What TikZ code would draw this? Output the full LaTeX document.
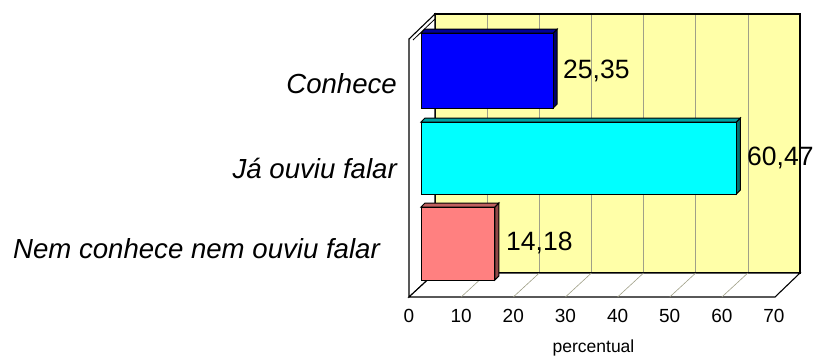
\documentclass[tikz,border=0pt]{standalone}
\usepackage{fontspec}
\setmainfont{Liberation Sans}
\definecolor{wallyellow}{HTML}{FFFFA8}
\definecolor{gridc}{HTML}{A0A088}
\definecolor{bluefront}{HTML}{0000FF}
\definecolor{bluetop}{HTML}{000099}
\definecolor{blueside}{HTML}{000066}
\definecolor{cyanfront}{HTML}{00FFFF}
\definecolor{cyantop}{HTML}{00A0A0}
\definecolor{cyanside}{HTML}{007070}
\definecolor{pinkfront}{HTML}{FF8080}
\definecolor{pinktop}{HTML}{C06060}
\definecolor{pinkside}{HTML}{904848}
\newcommand\mybar[7]{%
  \filldraw[fill=#7, barline] ({#3},{#2}) -- ({#3+4},{#2-4}) -- ({#3+4},{#4-4}) -- ({#3},{#4}) -- cycle;
  \filldraw[fill=#6, barline] ({#1},{#2}) -- ({#1+4},{#2-4}) -- ({#3+4},{#2-4}) -- ({#3},{#2}) -- cycle;
  \filldraw[fill=#5, barline] ({#1},{#2}) rectangle ({#3},{#4});
}
\begin{document}
\begin{tikzpicture}[x=1pt,y=-1pt,
  frame/.style={draw=black, line width=1.1pt, line join=miter},
  gridline/.style={draw=gridc, line width=0.6pt},
  barline/.style={draw=black, line width=1pt},
  catlabel/.style={inner sep=0pt, anchor=base east, font=\fontsize{27.6}{30}\selectfont\itshape},
  vallabel/.style={inner sep=0pt, anchor=base west, font=\fontsize{26.5}{30}\selectfont},
  ticklabel/.style={inner sep=0pt, anchor=base, font=\fontsize{19}{22}\selectfont},
  axistitle/.style={inner sep=0pt, anchor=base, font=\fontsize{17.5}{20}\selectfont}]
\useasboundingbox (0,0) rectangle (816,356);
% back wall
\fill[wallyellow] (435,14) rectangle (800,273);
\foreach \k in {1,...,6} \draw[gridline] ({435+52.14*\k},14) -- ({435+52.14*\k},273);
\draw[frame] (435,273) -- (435,14) -- (800,14) -- (800,273) -- cycle;
% left wall
\filldraw[fill=white, frame] (409,39) -- (435,14) -- (435,273) -- (409,297) -- cycle;
\draw[line width=0.8pt] (413,40) -- (435,19);
% floor
\filldraw[fill=white, frame] (409,297) -- (775,297) -- (800,273) -- (435,273) -- cycle;
\foreach \k in {1,...,6} \draw[gridline] ({409+52.14*\k},297) -- ({435+52.14*\k},273);
% bars
\mybar{421}{33}{553.2}{108}{bluefront}{bluetop}{blueside}
\mybar{421}{122}{736.3}{194}{cyanfront}{cyantop}{cyanside}
\mybar{421}{207}{494.9}{280}{pinkfront}{pinktop}{pinkside}
% value labels
\node[vallabel] (v1) at (563,78.3) {25,35};
\node[vallabel] (v2) at (747,165) {60,47};
\node[vallabel] (v3) at (506,250) {14,18};
% category labels
\node[catlabel] (c1) at (397,93) {Conhece};
\node[catlabel] (c2) at (397,178) {Já ouviu falar};
\node[catlabel] (c3) at (380,258) {Nem conhece nem ouviu falar};
% tick labels
\foreach \k/\t in {0/0,1/10,2/20,3/30,4/40,5/50,6/60,7/70}
  \node[ticklabel] (t\k) at ({409+52.14*\k},322.7) {\t};
\node[axistitle] (xt) at (593.5,352.5) {percentual};
\end{tikzpicture}
\end{document}
